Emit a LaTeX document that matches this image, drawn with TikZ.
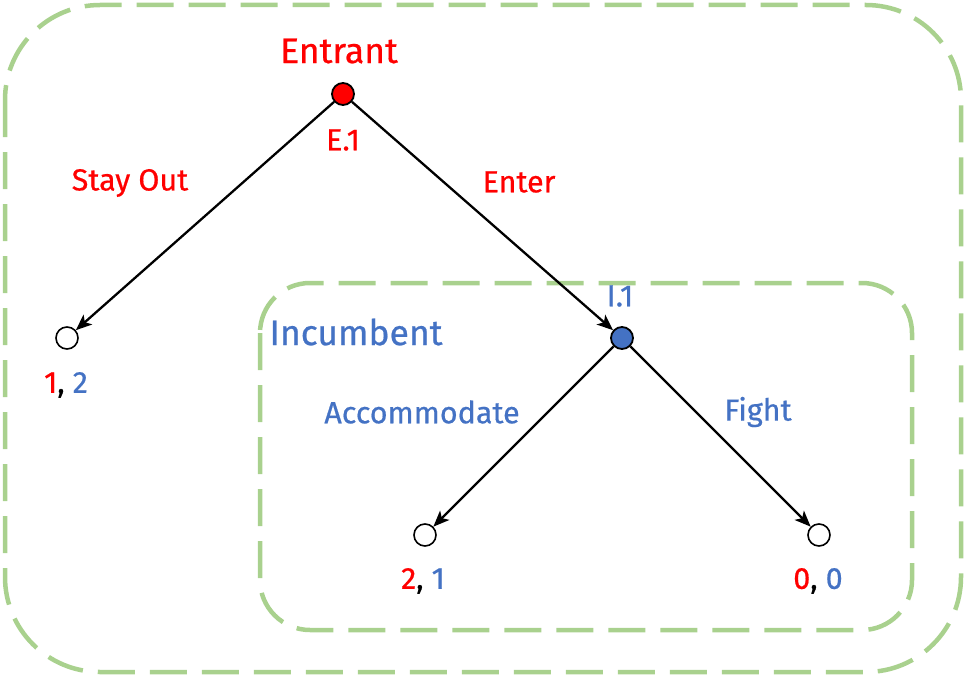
\documentclass[tikz,border=0pt]{standalone}
\usepackage{fontspec}
\setmainfont{Fira Sans}[FakeBold=0.6]
\usetikzlibrary{arrows.meta}
\definecolor{entred}{HTML}{FF0000}
\definecolor{incblue}{HTML}{4472C4}
\definecolor{setgreen}{HTML}{A9D18E}
\begin{document}
\begin{tikzpicture}[x=1pt,y=-1pt,
    decision/.style={circle,draw,line width=1.8pt,minimum size=22pt,inner sep=0pt},
    terminal/.style={circle,draw,line width=1.6pt,fill=white,minimum size=22pt,inner sep=0pt},
    move/.style={line width=2.3pt,-{Stealth[length=16pt,width=13pt,inset=4pt]}},
    infoset/.style={setgreen,line width=4.5pt,dash pattern=on 37pt off 15pt},
    heading/.style={font=\fontsize{35.5}{40}\selectfont},
    tag/.style={font=\fontsize{30.5}{36}\selectfont}]
  \useasboundingbox (0,0) rectangle (966,677);
  % information sets
  \draw [infoset,rounded corners=95pt] (5,5) rectangle (961,672);
  \draw [infoset,rounded corners=50pt] (260,283) rectangle (912,630);
  % players
  \node [heading,entred] (entrant) at (339,51) {Entrant};
  \node [heading,incblue] (incumbent) at (356,332) {Incumbent};
  % decision and terminal nodes
  \node [decision,fill=entred] (e1) at (343,94) {};
  \node [decision,fill=incblue] (i1) at (622,338) {};
  \node [terminal] (out) at (67,338) {};
  \node [terminal] (acc) at (425,535) {};
  \node [terminal] (fight) at (819,535) {};
  \node [tag,entred] (e1lab) at (343,140) {E.1};
  \node [tag,incblue] (i1lab) at (620,296) {I.1};
  % moves
  \draw [move] (e1) -- (out);
  \draw [move] (e1) -- (i1);
  \draw [move] (i1) -- (acc);
  \draw [move] (i1) -- (fight);
  \node [tag,entred] (stayout) at (130,183) {Stay Out};
  \node [tag,entred] (enter) at (519,182) {Enter};
  \node [tag,incblue] (accommodate) at (422,412) {Accommodate};
  \node [tag,incblue] (fightlab) at (758,412) {Fight};
  % payoffs
  \node [tag] (pout) at (66,385) {\textcolor{entred}{1}, \textcolor{incblue}{2}};
  \node [tag] (pacc) at (423,581) {\textcolor{entred}{2}, \textcolor{incblue}{1}};
  \node [tag] (pfight) at (818,581) {\textcolor{entred}{0}, \textcolor{incblue}{0}};
\end{tikzpicture}
\end{document}
